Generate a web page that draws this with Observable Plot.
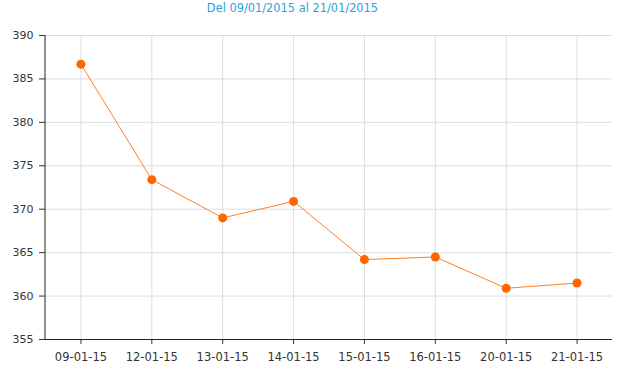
<!DOCTYPE html>
<html>
<head>
<meta charset="utf-8">
<script src="https://cdn.jsdelivr.net/npm/d3@7"></script>
<script src="https://cdn.jsdelivr.net/npm/@observablehq/plot@0.6"></script>
<style>
  body { margin: 0; background: #fff; }
  #wrap { position: relative; width: 620px; height: 375px; }
  #title { position: absolute; left: 0; top: 1px; width: 585px; text-align: center; z-index: 2;
           font: 11.4px "DejaVu Sans", Verdana, sans-serif; color: #29a3e0; }
  #wrap svg { position: absolute; left: 0; top: 0; z-index: 1; }
</style>
</head>
<body>
<div id="wrap"><div id="title">Del 09/01/2015 al 21/01/2015</div></div>
<script>
const dates = ["09-01-15","12-01-15","13-01-15","14-01-15","15-01-15","16-01-15","20-01-15","21-01-15"];
const values = [386.7, 373.4, 369.0, 370.9, 364.2, 364.5, 360.9, 361.5];
const yTicks = [355, 360, 365, 370, 375, 380, 385, 390];

const data = dates.map((d, i) => ({date: d, value: values[i]}));

const chart = Plot.plot({
  width: 620,
  height: 375,
  marginTop: 35,
  marginBottom: 36,
  marginLeft: 45,
  marginRight: 8,
  style: {fontFamily: '"DejaVu Sans", Verdana, sans-serif', fontSize: "11px", color: "#333", background: "white"},
  x: {type: "point", domain: dates, padding: 0.5, round: false, label: null},
  y: {domain: [355, 390], label: null},
  marks: [
    Plot.gridX(dates, {stroke: "#ddd", strokeOpacity: 1}),
    Plot.gridY(yTicks, {stroke: "#ddd", strokeOpacity: 1}),
    Plot.axisY(yTicks, {tickSize: 6, tickPadding: 6, stroke: "#333", fill: "#333"}),
    Plot.axisX(dates, {tickSize: 5, tickPadding: 8, stroke: "#333", fill: "#333", fontSize: 11.5}),
    Plot.ruleY([355], {stroke: "#222"}),
    Plot.line(data, {x: "date", y: "value", stroke: "#ff7f2a", strokeWidth: 1}),
    Plot.dot(data, {x: "date", y: "value", r: 4.5, fill: "#ff6600", stroke: "none"})
  ]
});

// left axis line, placed from the library's own scales
const xr = chart.scale("x").range, yr = chart.scale("y").range;
d3.select(chart).insert("line", "g[aria-label='line']")
  .attr("x1", xr[0]).attr("x2", xr[0])
  .attr("y1", yr[0]).attr("y2", yr[1])
  .attr("stroke", "#222");

document.getElementById("wrap").appendChild(chart);
</script>
</body>
</html>
